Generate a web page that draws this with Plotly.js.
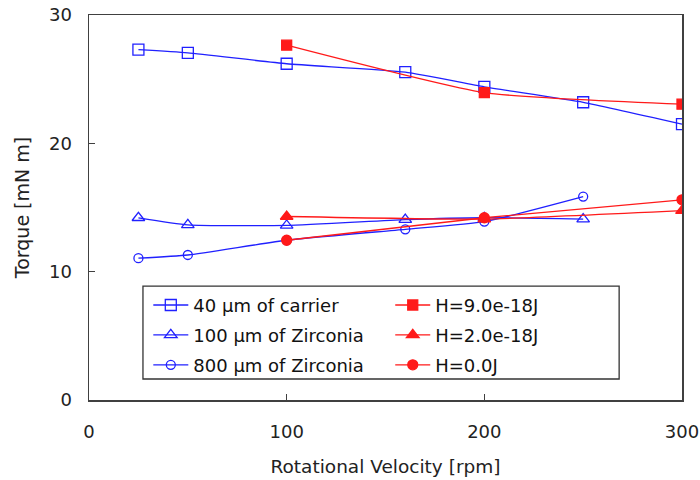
<!DOCTYPE html>
<html>
<head>
<meta charset="utf-8">
<script src="https://cdn.plot.ly/plotly-3.0.1.min.js"></script>
<style>html,body{margin:0;padding:0;background:#fff}#chart{width:700px;height:480px}</style>
</head>
<body>
<div id="chart"></div>
<script>
// Data
const x40 = [25, 50, 100, 160, 200, 250, 300];
const y40 = [27.3, 27.05, 26.2, 25.55, 24.4, 23.2, 21.5];
const x100 = [25, 50, 100, 160, 200, 250];
const y100 = [14.2, 13.65, 13.6, 14.05, 14.2, 14.1];
const x800 = [25, 50, 100, 160, 200, 250];
const y800 = [11.05, 11.3, 12.45, 13.3, 13.9, 15.85];
const xH = [100, 200, 300];
const yH9 = [27.65, 23.95, 23.05];
const yH2 = [14.3, 14.1, 14.75];
const yH0 = [12.45, 14.2, 15.6];
const names = ["40 μm of carrier", "100 μm of Zirconia", "800 μm of Zirconia",
               "H=9.0e-18J", "H=2.0e-18J", "H=0.0J"];
const xTicks = [0, 100, 200, 300];
const yTicks = [0, 10, 20, 30];

const FONT = '"DejaVu Sans", "Noto Sans", sans-serif';
const BLUE = '#2020ff';
const RED = '#ff1a1a';

function tr(x, y, name, color, symbol, size, legend, grp) {
  return {
    x: x, y: y, name: name, type: 'scatter', mode: 'lines+markers',
    line: {color: color, width: 1.3, shape: 'spline', smoothing: 0.5},
    marker: {symbol: symbol, size: size, color: color,
             line: {color: color, width: 1.3}},
    legend: legend, legendgroup: grp
  };
}

const data = [
  tr(x40, y40, names[0], BLUE, 'square-open', 11, 'legend', 'a'),
  tr(x100, y100, names[1], BLUE, 'triangle-up-open', 11, 'legend', 'b'),
  tr(x800, y800, names[2], BLUE, 'circle-open', 9, 'legend', 'c'),
  tr(xH, yH9, names[3], RED, 'square', 10, 'legend2', 'd'),
  tr(xH, yH2, names[4], RED, 'triangle-up', 11, 'legend2', 'e'),
  tr(xH, yH0, names[5], RED, 'circle', 10, 'legend2', 'f')
];

const axisCommon = {
  showgrid: false, zeroline: false, showline: true, mirror: true,
  linecolor: '#404040', linewidth: 1.5,
  ticks: 'inside', ticklen: 6, tickwidth: 1.2, tickcolor: '#404040',
  tickfont: {family: FONT, size: 18, color: '#222'}
};

const legendCommon = {
  bgcolor: 'rgba(0,0,0,0)', borderwidth: 0,
  font: {family: FONT, size: 18, color: '#111'},
  tracegroupgap: 3.5, itemwidth: 35,
  xanchor: 'left', yanchor: 'top', orientation: 'v'
};

const layout = {
  width: 700, height: 480,
  margin: {l: 89, r: 18, t: 15, b: 80},
  paper_bgcolor: '#fff', plot_bgcolor: '#fff',
  showlegend: true,
  xaxis: Object.assign({}, axisCommon, {
    range: [0, 300], tickvals: xTicks, ticktext: xTicks.map(String),
    ticklabelstandoff: 15,
    title: {text: 'Rotational Velocity [rpm]', font: {family: FONT, size: 18.5, color: '#222'}, standoff: 19}
  }),
  yaxis: Object.assign({}, axisCommon, {
    range: [0, 30], tickvals: yTicks, ticktext: yTicks.map(String),
    ticklabelstandoff: 12,
    title: {text: 'Torque [mN m]', font: {family: FONT, size: 19, color: '#222'}, standoff: 14}
  }),
  legend: Object.assign({}, legendCommon, {x: 0.10, y: 0.294}),
  legend2: Object.assign({}, legendCommon, {x: 0.508, y: 0.294}),
  shapes: [{
    type: 'rect', xref: 'paper', yref: 'paper',
    x0: 0.091, x1: 0.894, y0: 0.0545, y1: 0.296,
    line: {color: '#333', width: 1.3}, fillcolor: 'rgba(0,0,0,0)'
  }]
};

Plotly.newPlot('chart', data, layout, {displayModeBar: false, staticPlot: true});
</script>
</body>
</html>
